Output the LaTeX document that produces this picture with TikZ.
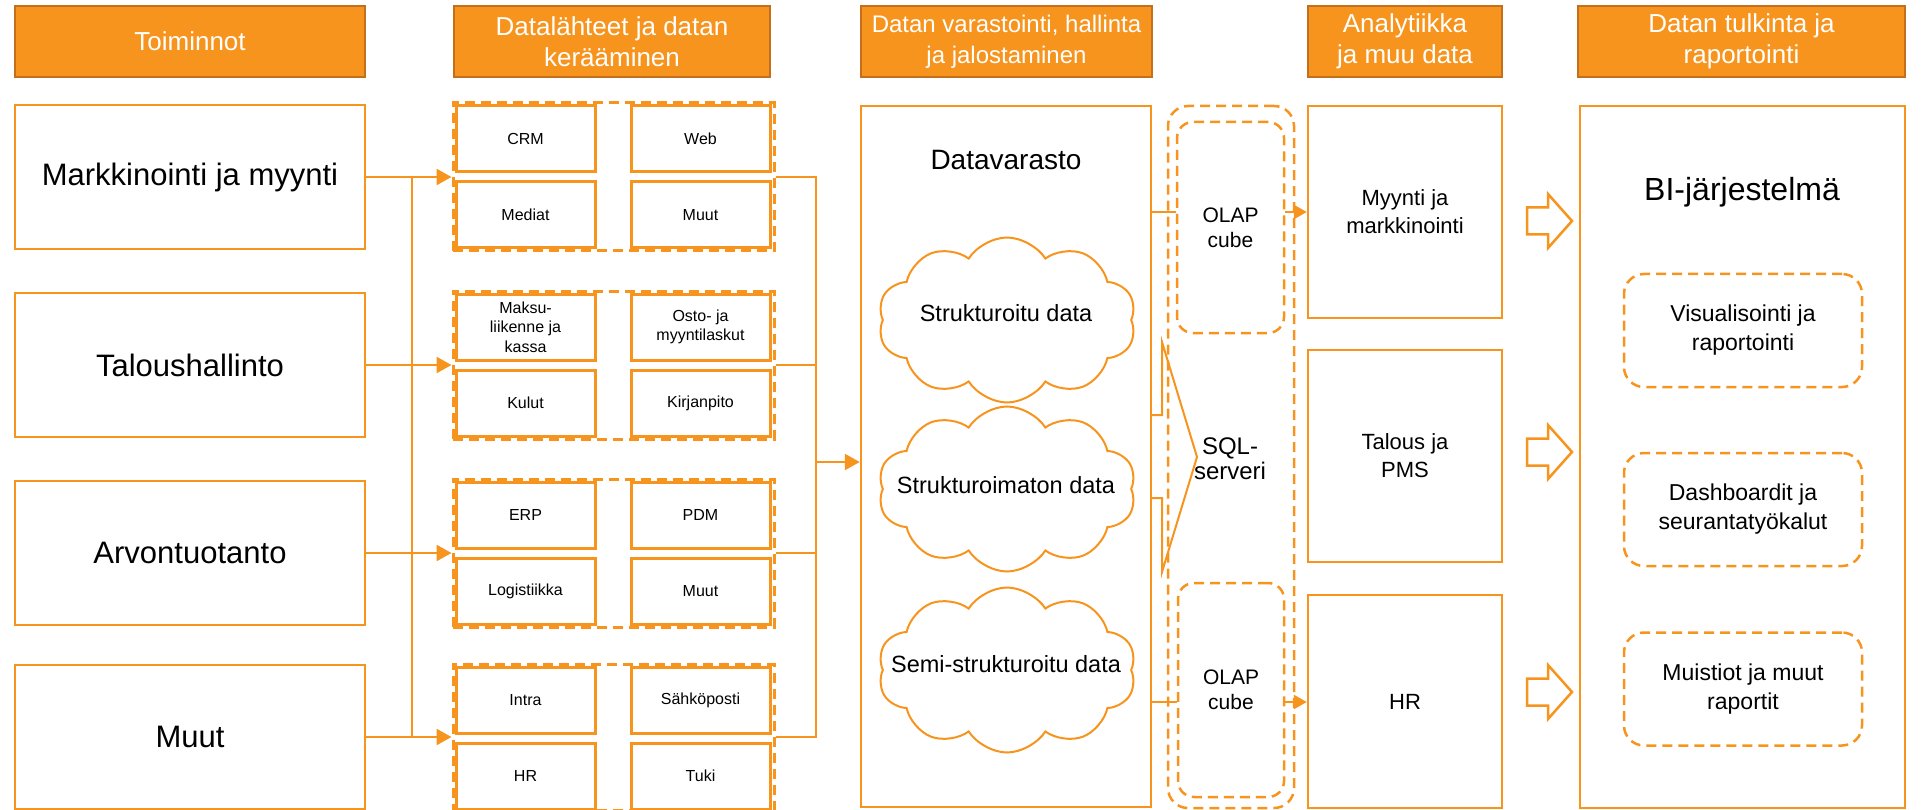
\documentclass[tikz,border=0pt]{standalone}
\usepackage{fontspec}
\setmainfont{Liberation Sans}
\usetikzlibrary{arrows.meta,shapes.symbols}
\definecolor{orng}{HTML}{F7941D}
\definecolor{hdrline}{HTML}{C46F1B}
\begin{document}
\begin{tikzpicture}[x=1pt,y=-1pt,
  hdr/.style={draw=hdrline,line width=2.5pt,fill=orng,text=white,minimum height=71pt,align=center,font=\fontsize{26}{31}\selectfont},
  func/.style={draw=orng,line width=2.5pt,minimum width=350pt,minimum height=144pt,font=\fontsize{31}{36}\selectfont},
  grp/.style={draw=orng,line width=3pt,dash pattern=on 10pt off 6pt,minimum width=321pt,minimum height=148pt},
  src/.style={draw=orng,line width=3pt,fill=white,minimum width=139pt,minimum height=66pt,align=center,font=\fontsize{16}{19.5}\selectfont},
  bigbox/.style={draw=orng,line width=2.5pt},
  cloudnode/.style={cloud,cloud puffs=10,cloud puff arc=115,cloud ignores aspect,draw=orng,line width=2pt,fill=white,minimum width=258pt,minimum height=165pt},
  cloudtext/.style={font=\fontsize{23.5}{28}\selectfont},
  dashround/.style={draw=orng,line width=2.5pt,dash pattern=on 10pt off 6pt,rounded corners=16pt,align=center},
  edge/.style={draw=orng,line width=2.5pt},
  bus/.style={draw=orng,line width=1.3pt},
  arr/.style={draw=orng,line width=2.5pt,-{Triangle[length=15pt,width=16pt]}},
  smallarr/.style={draw=orng,line width=2.5pt,-{Triangle[length=13pt,width=14pt]}},
  blockarr/.style={draw=orng,line width=2.5pt,fill=white,line join=miter}]
\tikzstyle{every node}+=[inner sep=0pt]
\useasboundingbox (0,0) rectangle (1921,810);

% otsikot
\node[hdr,minimum width=350pt] (h1) at (190,41.5) {Toiminnot};
\node[hdr,minimum width=316pt] (h2) at (612,41.5) {Datalähteet ja datan\\kerääminen};
\node[hdr,minimum width=291pt,font=\fontsize{24}{31}\selectfont] (h3) at (1006.5,41.5) {Datan varastointi, hallinta\\ja jalostaminen};
\node[hdr,minimum width=194pt] (h4) at (1405,41.5) {Analytiikka\\ja muu data};
\node[hdr,minimum width=327pt] (h5) at (1741.5,41.5) {Datan tulkinta ja\\raportointi};

% toiminnot
\node[func] (mark) at (190,177) {Markkinointi ja myynti};
\node[func] (talous) at (190,365) {Taloushallinto};
\node[func] (arvo) at (190,553) {Arvontuotanto};
\node[func] (muut) at (190,737) {Muut};

% datalähteet
\node[grp] (g1) at (613.5,177) {};
\node[grp] (g2) at (613.5,365) {};
\node[grp] (g3) at (613.5,553) {};
\node[grp,minimum height=146pt] (g4) at (613.5,737) {};
\node[src] (crm) at (525.5,139) {CRM};
\node[src] (web) at (700.5,139) {Web};
\node[src] (mediat) at (525.5,215) {Mediat};
\node[src] (muut1) at (700.5,215) {Muut};
\node[src] (maksu) at (525.5,327) {Maksu-\\liikenne ja\\kassa};
\node[src] (osto) at (700.5,327) {Osto- ja\\myyntilaskut};
\node[src] (kulut) at (525.5,403) {Kulut};
\node[src] (kirja) at (700.5,403) {Kirjanpito};
\node[src] (erp) at (525.5,515) {ERP};
\node[src] (pdm) at (700.5,515) {PDM};
\node[src] (logi) at (525.5,591) {Logistiikka};
\node[src] (muut2) at (700.5,591) {Muut};
\node[src] (intra) at (525.5,700) {Intra};
\node[src] (posti) at (700.5,700) {Sähköposti};
\node[src] (hrsrc) at (525.5,776) {HR};
\node[src] (tuki) at (700.5,776) {Tuki};

\coordinate (busl) at (412,177);
\coordinate (busr) at (816,462);
\draw[bus] (mark.east -| busl) -- (muut.east -| busl);
\draw[arr] (mark.east) -- (g1.west);
\draw[arr] (talous.east) -- (g2.west);
\draw[arr] (arvo.east) -- (g3.west);
\draw[arr] (muut.east) -- (g4.west);
\draw[bus] (g1.east) -- (g1.east -| busr) -- (g4.east -| busr) -- (g4.east);
\draw[bus] (g2.east) -- (g2.east -| busr);
\draw[bus] (g3.east) -- (g3.east -| busr);

% datavarasto
\node[bigbox,minimum width=290pt,minimum height=701pt] (dv) at (1006,456.5) {};
\node[font=\fontsize{28}{32}\selectfont] (dvlabel) at (1006,160) {Datavarasto};
\draw[arr] (busr) -- (busr -| dv.west);
\node[cloudnode] (c1) at (1007,320) {};
\node[cloudnode] (c2) at (1007,489) {};
\node[cloudnode] (c3) at (1007,670) {};
\node[cloudtext] (c1t) at (1006,313) {Strukturoitu data};
\node[cloudtext] (c2t) at (1006,485) {Strukturoimaton data};
\node[cloudtext] (c3t) at (1006,664) {Semi-strukturoitu data};

% sql-serveri
\node[dashround,rounded corners=20pt,minimum width=126pt,minimum height=702pt] (sql) at (1231,457) {};
\node[dashround,minimum width=107pt,minimum height=211pt,font=\fontsize{21}{25}\selectfont] (olap1) at (1230.5,227.5) {OLAP\\cube};
\node[dashround,minimum width=106pt,minimum height=214pt,font=\fontsize{21}{25}\selectfont] (olap2) at (1231,690) {OLAP\\cube};
\node[align=center,font=\fontsize{24}{25}\selectfont] (sqltext) at (1230,459) {SQL-\\serveri};
\draw[edge,line width=2pt] (1151,415) -- (1162,415) -- (1162,342) -- (1197,457) -- (1162,572) -- (1162,498) -- (1151,498);

% analytiikka
\node[bigbox,minimum width=194pt,minimum height=212pt,align=center,font=\fontsize{22}{28}\selectfont] (myy) at (1405,212) {Myynti ja\\markkinointi};
\node[bigbox,minimum width=194pt,minimum height=212pt,align=center,font=\fontsize{22}{28}\selectfont] (tal) at (1405,456) {Talous ja\\PMS};
\node[bigbox,minimum width=194pt,minimum height=213pt,align=center,font=\fontsize{22}{28}\selectfont] (hr) at (1405,701.5) {HR};

\coordinate (q1) at (1151,212);
\coordinate (q2) at (1151,702);
\draw[edge] (dv.east |- q1) -- (olap1.west |- q1);
\draw[smallarr] (olap1.east |- q1) -- (myy.west |- q1);
\draw[edge] (dv.east |- q2) -- (olap2.west |- q2);
\draw[smallarr] (olap2.east |- q2) -- (hr.west |- q2);

% nuolet
\draw[blockarr] (1527,207.5) -- (1548,207.5) -- (1548,194) -- (1572,221) -- (1548,248) -- (1548,234.5) -- (1527,234.5) -- cycle;
\draw[blockarr] (1527,438.5) -- (1548,438.5) -- (1548,425) -- (1572,452) -- (1548,479) -- (1548,465.5) -- (1527,465.5) -- cycle;
\draw[blockarr] (1527,678.5) -- (1548,678.5) -- (1548,665) -- (1572,692) -- (1548,719) -- (1548,705.5) -- (1527,705.5) -- cycle;

% bi
\node[bigbox,minimum width=325pt,minimum height=702pt] (bi) at (1742.5,457) {};
\node[font=\fontsize{32}{36}\selectfont] (bilabel) at (1742,192) {BI-järjestelmä};
\node[dashround,rounded corners=20pt,minimum width=238pt,minimum height=113pt,font=\fontsize{23}{29}\selectfont] (vis) at (1743,330.5) {Visualisointi ja\\raportointi};
\node[dashround,rounded corners=20pt,minimum width=238pt,minimum height=113pt,font=\fontsize{23}{29}\selectfont] (dashb) at (1743,509.5) {Dashboardit ja\\seurantatyökalut};
\node[dashround,rounded corners=20pt,minimum width=238pt,minimum height=113pt,font=\fontsize{23}{29}\selectfont] (muist) at (1743,689) {Muistiot ja muut\\raportit};
\end{tikzpicture}
\end{document}
